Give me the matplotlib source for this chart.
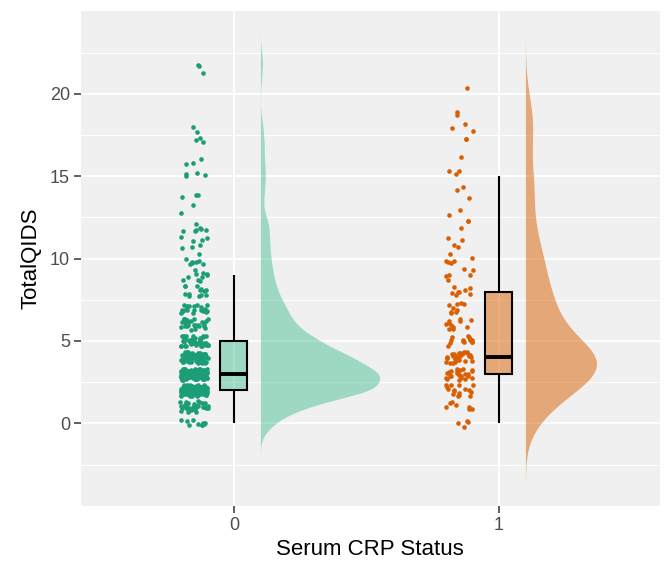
import numpy as np
import matplotlib
matplotlib.use("Agg")
import matplotlib.pyplot as plt
from matplotlib.patches import Rectangle

# ---- data ----
categories = ["0", "1"]
score_values = list(range(0, 23))
counts_0 = [10, 34, 92, 94, 70, 44, 26, 20, 13, 10, 8, 7, 7, 2, 3, 4, 3, 3, 2, 0, 0, 1, 2]
counts_1 = [4, 7, 16, 24, 28, 14, 11, 9, 8, 6, 6, 4, 3, 2, 3, 3, 1, 2, 3, 2, 1, 0, 0]
point_colors = ["#1B9E77", "#D95F02"]
fill_colors = ["#2DB985", "#D95F02"]
fill_alphas = [0.42, 0.50]
x_label = "Serum CRP Status"
y_label = "TotalQIDS"

plt.rcParams["font.family"] = ["Liberation Sans", "DejaVu Sans"]

fig = plt.figure(figsize=(6.65, 5.62), dpi=100)
ax = fig.add_axes([0.1214, 0.0996, 0.9925 - 0.1214, 0.9804 - 0.0996])
ax.set_facecolor("#F0F0F0")

groups = [np.repeat(score_values, counts_0).astype(float),
          np.repeat(score_values, counts_1).astype(float)]


def nrd0(x):
    q1, q3 = np.percentile(x, [25, 75])
    s = min(np.std(x, ddof=1), (q3 - q1) / 1.34)
    return 0.9 * s * len(x) ** -0.2


def kde(x, bw):
    grid = np.linspace(x.min() - 3 * bw, x.max() + 3 * bw, 512)
    d = np.exp(-0.5 * ((grid[:, None] - x[None, :]) / bw) ** 2).sum(axis=1)
    d /= len(x) * bw * np.sqrt(2 * np.pi)
    return grid, d


dens = [kde(g, nrd0(g)) for g in groups]
max_widths = [0.45, 0.268]
violin_offset = 0.102
point_offset = -0.15
jit_w, jit_h = 0.052, 0.35
box_half = 0.051

# jitter offsets (display only, like geom_jitter)
rng = np.random.default_rng(7)

for i, g in enumerate(groups):
    xc = i
    # half violin
    grid, d = dens[i]
    ax.fill_betweenx(grid, xc + violin_offset, xc + violin_offset + d / d.max() * max_widths[i],
                     facecolor=fill_colors[i], alpha=fill_alphas[i], linewidth=0, zorder=2)
    # jittered points
    ox = rng.uniform(-1, 1, len(g))
    oy = rng.uniform(-1, 1, len(g))
    ax.scatter(xc + point_offset + ox * jit_w, g + oy * jit_h, s=11,
               color=point_colors[i], linewidths=0, zorder=3)
    # boxplot
    q1, med, q3 = np.percentile(g, [25, 50, 75])
    iqr = q3 - q1
    upper = g[g <= q3 + 1.5 * iqr].max()
    lower = g[g >= q1 - 1.5 * iqr].min()
    ax.add_patch(Rectangle((xc - box_half, q1), 2 * box_half, q3 - q1,
                           facecolor=fill_colors[i], alpha=fill_alphas[i],
                           edgecolor="none", zorder=4))
    ax.add_patch(Rectangle((xc - box_half, q1), 2 * box_half, q3 - q1,
                           facecolor="none", edgecolor="black", linewidth=1.5, zorder=5))
    ax.plot([xc, xc], [q3, upper], color="black", lw=1.5, zorder=5, solid_capstyle="butt")
    ax.plot([xc, xc], [lower, q1], color="black", lw=1.5, zorder=5, solid_capstyle="butt")
    ax.plot([xc - box_half, xc + box_half], [med, med], color="black", lw=2.8,
            zorder=6, solid_capstyle="butt")

ax.set_xlim(-0.578, 1.608)
ax.set_ylim(-5.02, 25.03)
ax.set_xticks([0, 1])
ax.set_xticklabels(categories)
ax.set_yticks([0, 5, 10, 15, 20])
ax.set_yticks([-2.5, 2.5, 7.5, 12.5, 17.5, 22.5], minor=True)
ax.grid(True, which="major", color="white", linewidth=1.4, zorder=0)
ax.grid(True, which="minor", axis="y", color="white", linewidth=0.7, zorder=0)
ax.set_axisbelow(True)
for s in ax.spines.values():
    s.set_visible(False)
ax.tick_params(axis="both", which="major", length=4.8, width=1.1, color="#333333",
               labelcolor="#4D4D4D", labelsize=13, pad=3)
ax.tick_params(axis="both", which="minor", length=0)
ax.set_xlabel(x_label, fontsize=16, color="black", labelpad=4)
ax.set_ylabel(y_label, fontsize=16, color="black", labelpad=6)

fig.savefig("out.png", dpi=100)
